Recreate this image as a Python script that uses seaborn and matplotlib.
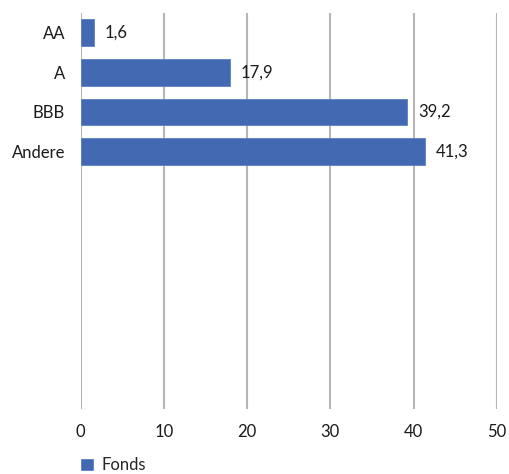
import matplotlib
matplotlib.use("Agg")
import matplotlib.pyplot as plt
import seaborn as sns
import pandas as pd
from matplotlib.patches import Patch

categories = ["AA", "A", "BBB", "Andere"]
values = [1.6, 17.9, 39.2, 41.3]
series_name = "Fonds"
xticks = [0, 10, 20, 30, 40, 50]

sns.set_theme(style="white")
plt.rcParams['font.family'] = ['Lato', 'DejaVu Sans']

color = "#4369B3"
txt = "#1A1A1A"
fs = 12
df = pd.DataFrame({"cat": categories, "val": values})

fig = plt.figure(figsize=(5.09, 4.74), dpi=100)
ax = fig.add_axes([80.5/509, 1-409/474, (497-80.5)/509, (409-13)/474])

sns.barplot(data=df, x="val", y="cat", orient="h", color=color, width=0.68,
            saturation=1, ax=ax, edgecolor="#5B80C4", linewidth=0.6)

ax.set_xlim(0, 50)
ax.set_ylim(9.5, -0.5)
ax.set_xticks(xticks)
ax.set_xticklabels([str(t) for t in xticks], fontsize=fs, color=txt)
ax.tick_params(axis="x", length=0, pad=11)
ax.tick_params(axis="y", length=0, pad=11, labelsize=fs, labelcolor=txt)
ax.set_xlabel("")
ax.set_ylabel("")
for s in ax.spines.values():
    s.set_visible(False)
ax.grid(axis="x", color="#B5B5B5", linewidth=1.5)
ax.set_axisbelow(True)

ax.bar_label(ax.containers[0], labels=[f"{v:.1f}".replace(".", ",") for v in values],
             padding=8, fontsize=fs, color=txt)

fig.legend(handles=[Patch(facecolor=color, label=series_name)],
           loc="center left", bbox_to_anchor=(77/509, 1-465/474), frameon=False,
           fontsize=fs, handlelength=0.8, handleheight=0.8, handletextpad=0.45,
           borderpad=0.2, borderaxespad=0)

fig.savefig("out.png", dpi=100, facecolor="white")
